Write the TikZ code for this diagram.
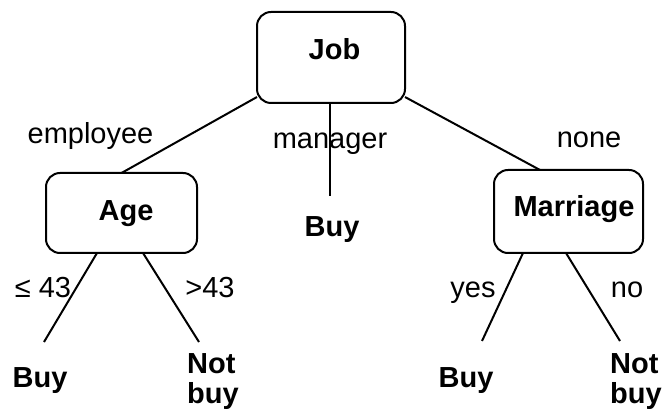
\documentclass[tikz,border=0pt]{standalone}
\usepackage{fontspec}
\setmainfont{Liberation Sans}
\begin{document}
\begin{tikzpicture}[x=1pt,y=-1pt,
  box/.style={draw, line width=2pt, rounded corners=14pt, inner sep=0pt, outer sep=0pt},
  lbl/.style={font=\fontsize{29}{30}\selectfont, inner sep=0pt, anchor=base},
  ttl/.style={font=\bfseries\fontsize{29}{30}\selectfont, inner sep=0pt, anchor=base},
  branch/.style={line width=2pt}]
\useasboundingbox (0,0) rectangle (663,411);

% decision boxes
\node[box, minimum width=148pt, minimum height=91pt] (job) at (331,57.5) {};
\node[box, minimum width=151pt, minimum height=80pt] (age) at (121.5,213) {};
\node[box, minimum width=149pt, minimum height=83pt] (marriage) at (568.5,211.5) {};
\node[ttl] (jobtxt) at (334.5,59.3) {Job};
\node[ttl] (agetxt) at (126,221) {Age};
\node[ttl] (martxt) at (574,216.7) {Marriage};

% leaves
\node[ttl] (buymid) at (332,237) {Buy};
\node[ttl] (buyleft) at (40,387) {Buy};
\node[ttl, anchor=base west] (notleft) at (187,373) {\begin{tabular}[t]{@{}l@{}}Not\\buy\end{tabular}};
\node[ttl] (buyright) at (466,387) {Buy};
\node[ttl, anchor=base west] (notright) at (610,373) {\begin{tabular}[t]{@{}l@{}}Not\\buy\end{tabular}};

% free ends of the branches above the leaves
\coordinate (endmid) at (330,196);
\coordinate (endll) at (44,342);
\coordinate (endlr) at (199,342);
\coordinate (endrl) at (482,341);
\coordinate (endrr) at (620,341);

% branches
\draw[branch] ([yshift=6pt]job.south west) -- (age.north);
\draw[branch] ([xshift=-1pt]job.south) -- (endmid);
\draw[branch] ([yshift=6pt]job.south east) -- ([xshift=-28.5pt]marriage.north);
\draw[branch] ([xshift=-24.5pt]age.south) -- (endll);
\draw[branch] ([xshift=21.5pt]age.south) -- (endlr);
\draw[branch] ([xshift=-45.5pt]marriage.south) -- (endrl);
\draw[branch] ([xshift=-2.5pt]marriage.south) -- (endrr);

% branch labels
\node[lbl] (lemp) at (90.5,144) {employee};
\node[lbl] (lman) at (330,149) {manager};
\node[lbl] (lnone) at (589,148) {none};
\node[lbl] (lle) at (43,298) {≤ 43};
\node[lbl] (lgt) at (210,298) {>43};
\node[lbl] (lyes) at (473,298) {yes};
\node[lbl] (lno) at (627,298) {no};
\end{tikzpicture}
\end{document}
